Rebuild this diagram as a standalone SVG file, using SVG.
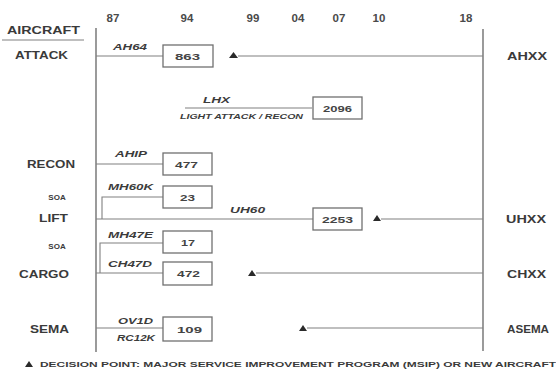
<svg xmlns="http://www.w3.org/2000/svg" width="556" height="376" viewBox="0 0 556 376">
<defs>
<style>
.lbl{font-family:"Liberation Sans",Arial,sans-serif;font-weight:bold;fill:#3a3a3a;}
.big{font-size:11px;}
.yr{font-size:11.5px;text-anchor:middle;fill:#4a4a4a;}
.sm{font-size:8px;text-anchor:middle;}
.it{font-family:"Liberation Sans",Arial,sans-serif;font-weight:bold;font-style:italic;fill:#3c3c3c;font-size:9px;}
.num{font-family:"Liberation Sans",Arial,sans-serif;font-weight:bold;fill:#444;font-size:9px;}
.box{fill:#fff;stroke:#707070;stroke-width:1.3;}
.ln{fill:none;stroke:#808080;stroke-width:1.1;}
.vln{fill:none;stroke:#707070;stroke-width:1.4;}
.tri{fill:#2a2a2a;}
</style>
</defs>
<rect width="556" height="376" fill="#fff"/>

<g id="header">
<text class="lbl big" x="7" y="34" textLength="73" lengthAdjust="spacingAndGlyphs">AIRCRAFT</text>
<line x1="2" y1="40" x2="84" y2="40" stroke="#808080" stroke-width="1"/>
<text class="lbl yr" x="113" y="22">87</text>
<text class="lbl yr" x="187" y="22">94</text>
<text class="lbl yr" x="253" y="22">99</text>
<text class="lbl yr" x="298" y="22">04</text>
<text class="lbl yr" x="339" y="22">07</text>
<text class="lbl yr" x="379" y="22">10</text>
<text class="lbl yr" x="466" y="22">18</text>
</g>

<g id="connectors">
<line class="vln" x1="96" y1="28" x2="96" y2="352"/>
<line class="vln" x1="483" y1="29" x2="483" y2="351"/>
<polyline class="ln" points="96,56 163,56"/>
<polyline class="ln" points="238,56 483,56"/>
<polyline class="ln" points="185,108 312,108"/>
<polyline class="ln" points="96,164 163,164"/>
<polyline class="ln" points="163,197 102,197 102,219"/>
<polyline class="ln" points="96,219 313,219"/>
<polyline class="ln" points="381,219 483,219"/>
<polyline class="ln" points="163,243 100,243 100,273"/>
<polyline class="ln" points="96,273 163,273"/>
<polyline class="ln" points="256,273 483,273"/>
<polyline class="ln" points="96,328 163,328"/>
<polyline class="ln" points="307,328 483,328"/>
<polygon class="tri" points="229,58 238,58 233.5,52"/>
<polygon class="tri" points="373,221 381,221 377,215"/>
<polygon class="tri" points="248,276 256,276 252,270"/>
<polygon class="tri" points="299,331 307,331 303,325"/>
</g>

<g id="attack">
<text class="lbl big" x="15" y="59" textLength="53" lengthAdjust="spacingAndGlyphs">ATTACK</text>
<text class="it" x="113" y="50" textLength="34" lengthAdjust="spacingAndGlyphs">AH64</text>
<rect class="box" x="163" y="45" width="50" height="22"/>
<text class="num" x="175" y="60" textLength="25" lengthAdjust="spacingAndGlyphs">863</text>
<text class="lbl big" x="507" y="60" textLength="40" lengthAdjust="spacingAndGlyphs">AHXX</text>
</g>

<g id="lhx">
<text class="it" x="203" y="103" textLength="27" lengthAdjust="spacingAndGlyphs">LHX</text>
<text class="it" x="180" y="119" style="font-size:6.5px" textLength="123" lengthAdjust="spacingAndGlyphs">LIGHT ATTACK / RECON</text>
<rect class="box" x="313" y="97" width="49" height="22"/>
<text class="num" x="323" y="112" textLength="29" lengthAdjust="spacingAndGlyphs">2096</text>
</g>

<g id="recon">
<text class="lbl big" x="27" y="168" textLength="48" lengthAdjust="spacingAndGlyphs">RECON</text>
<text class="it" x="115" y="157" textLength="32" lengthAdjust="spacingAndGlyphs">AHIP</text>
<rect class="box" x="163" y="153" width="49" height="22"/>
<text class="num" x="175" y="168" textLength="23" lengthAdjust="spacingAndGlyphs">477</text>
</g>

<g id="lift">
<text class="lbl sm" x="57" y="200">SOA</text>
<text class="lbl big" x="39" y="222" textLength="29" lengthAdjust="spacingAndGlyphs">LIFT</text>
<text class="it" x="108" y="190" textLength="45" lengthAdjust="spacingAndGlyphs">MH60K</text>
<rect class="box" x="163" y="186" width="49" height="22"/>
<text class="num" x="180" y="201" textLength="15" lengthAdjust="spacingAndGlyphs">23</text>
<text class="it" x="230" y="213" textLength="35" lengthAdjust="spacingAndGlyphs">UH60</text>
<rect class="box" x="313" y="208" width="49" height="22"/>
<text class="num" x="322" y="223" textLength="31" lengthAdjust="spacingAndGlyphs">2253</text>
<text class="lbl big" x="506" y="223" textLength="40" lengthAdjust="spacingAndGlyphs">UHXX</text>
</g>

<g id="cargo">
<text class="lbl sm" x="57" y="249">SOA</text>
<text class="lbl big" x="19" y="278" textLength="50" lengthAdjust="spacingAndGlyphs">CARGO</text>
<text class="it" x="108" y="238" textLength="45" lengthAdjust="spacingAndGlyphs">MH47E</text>
<rect class="box" x="163" y="231" width="49" height="22"/>
<text class="num" x="181" y="246" textLength="14" lengthAdjust="spacingAndGlyphs">17</text>
<text class="it" x="108" y="267" textLength="44" lengthAdjust="spacingAndGlyphs">CH47D</text>
<rect class="box" x="163" y="262" width="49" height="23"/>
<text class="num" x="177" y="277" textLength="23" lengthAdjust="spacingAndGlyphs">472</text>
<text class="lbl big" x="507" y="278" textLength="39" lengthAdjust="spacingAndGlyphs">CHXX</text>
</g>

<g id="sema">
<text class="lbl big" x="30" y="333" textLength="39" lengthAdjust="spacingAndGlyphs">SEMA</text>
<text class="it" x="118" y="324" textLength="35" lengthAdjust="spacingAndGlyphs">OV1D</text>
<text class="it" x="117" y="341" textLength="38" lengthAdjust="spacingAndGlyphs">RC12K</text>
<rect class="box" x="163" y="317" width="49" height="24"/>
<text class="num" x="177" y="333" textLength="25" lengthAdjust="spacingAndGlyphs">109</text>
<text class="lbl big" x="507" y="333" textLength="42" lengthAdjust="spacingAndGlyphs">ASEMA</text>
</g>

<g id="legend">
<polygon class="tri" points="25,367 33,367 29,361"/>
<text class="lbl" x="40" y="367" style="font-size:7.5px" textLength="516" lengthAdjust="spacingAndGlyphs">DECISION POINT: MAJOR SERVICE IMPROVEMENT PROGRAM (MSIP) OR NEW AIRCRAFT</text>
</g>
</svg>
